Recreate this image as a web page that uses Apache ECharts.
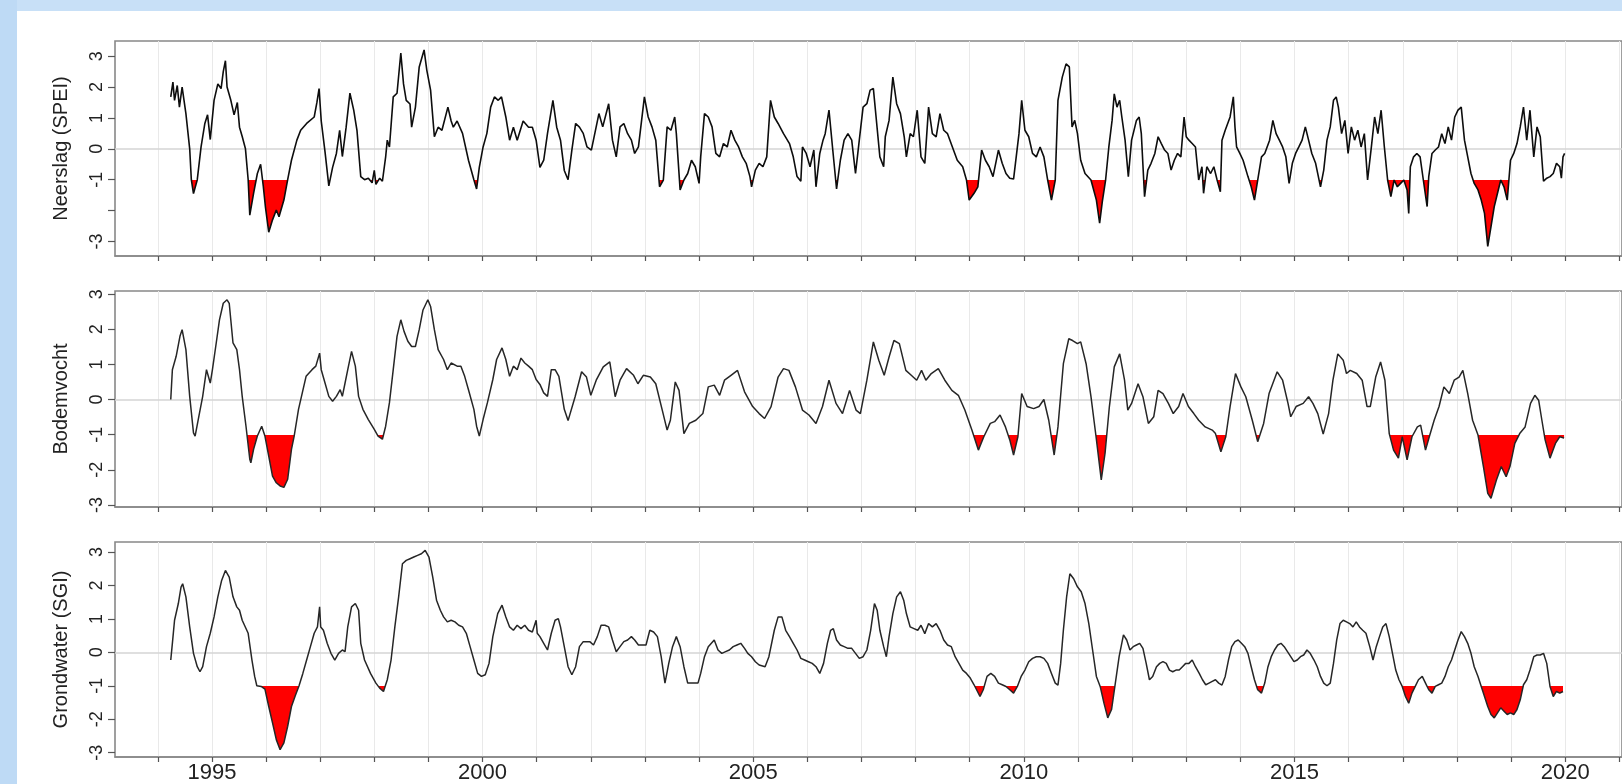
<!DOCTYPE html>
<html><head><meta charset="utf-8">
<script src="https://cdn.jsdelivr.net/npm/echarts@6/dist/echarts.min.js"></script>
<style>
html,body{margin:0;padding:0;width:1622px;height:784px;overflow:hidden;background:#c8e0f7;}
#leftband{position:absolute;left:0;top:0;width:17px;height:784px;background:#bedaf5;}
#paper{position:absolute;left:17px;top:11px;right:0;bottom:0;background:#ffffff;}
#chart{position:absolute;left:0;top:0;width:1622px;height:784px;}
</style></head>
<body><div id="leftband"></div><div id="paper"></div><div id="chart"></div>
<script>
// ---- data: [decimal year, index value] ----
const spei = [
[1994.24,1.68],[1994.28,2.16],[1994.31,1.57],[1994.36,2.05],[1994.40,1.35],[1994.45,2.0],[1994.52,1.14],[1994.59,0.0],[1994.62,-1.0],[1994.66,-1.45],[1994.73,-1.0],[1994.80,0.06],[1994.87,0.82],[1994.92,1.1],[1994.97,0.3],
[1995.04,1.57],[1995.11,2.1],[1995.17,1.95],[1995.21,2.5],[1995.25,2.85],[1995.28,2.0],[1995.35,1.57],[1995.41,1.1],[1995.47,1.5],[1995.51,0.7],[1995.56,0.4],[1995.62,0.0],[1995.67,-1.0],[1995.70,-2.15],[1995.77,-1.44],[1995.84,-0.8],[1995.90,-0.5],[1995.95,-1.22],[1995.99,-1.9],
[1996.05,-2.7],[1996.12,-2.3],[1996.19,-1.98],[1996.24,-2.2],[1996.33,-1.66],[1996.40,-1.0],[1996.47,-0.37],[1996.57,0.28],[1996.64,0.6],[1996.75,0.82],[1996.89,1.03],[1996.94,1.5],[1996.98,1.95],
[1997.02,0.9],[1997.09,-0.1],[1997.16,-1.2],[1997.23,-0.6],[1997.30,-0.15],[1997.36,0.6],[1997.41,-0.25],[1997.48,0.7],[1997.55,1.8],[1997.62,1.25],[1997.68,0.6],[1997.75,-0.9],[1997.82,-1.0],[1997.89,-0.95],[1997.96,-1.1],
[1998.00,-0.7],[1998.03,-1.15],[1998.10,-0.95],[1998.15,-1.05],[1998.21,-0.26],[1998.24,0.28],[1998.28,0.06],[1998.35,1.68],[1998.42,1.8],[1998.49,3.1],[1998.54,2.1],[1998.59,1.57],[1998.66,1.45],[1998.69,0.7],[1998.76,1.35],[1998.83,2.65],[1998.92,3.2],[1998.97,2.55],
[1999.04,1.9],[1999.11,0.39],[1999.18,0.7],[1999.25,0.6],[1999.36,1.35],[1999.42,0.9],[1999.46,0.7],[1999.53,0.9],[1999.63,0.5],[1999.74,-0.37],[1999.84,-1.0],[1999.89,-1.3],[1999.94,-0.6],
[2000.01,0.06],[2000.08,0.5],[2000.15,1.35],[2000.22,1.68],[2000.29,1.57],[2000.35,1.68],[2000.43,1.03],[2000.50,0.28],[2000.57,0.7],[2000.64,0.28],[2000.75,0.9],[2000.85,0.7],[2000.92,0.7],[2000.99,0.28],
[2001.06,-0.6],[2001.13,-0.37],[2001.20,0.5],[2001.30,1.57],[2001.37,0.7],[2001.44,0.28],[2001.51,-0.7],[2001.58,-1.0],[2001.65,-0.04],[2001.72,0.82],[2001.79,0.7],[2001.86,0.5],[2001.93,0.06],
[2002.01,-0.04],[2002.15,1.14],[2002.22,0.71],[2002.33,1.46],[2002.40,0.28],[2002.47,-0.26],[2002.54,0.71],[2002.61,0.82],[2002.68,0.49],[2002.75,0.28],[2002.81,-0.15],[2002.88,0.06],[2002.99,1.68],
[2003.06,1.03],[2003.13,0.71],[2003.20,0.28],[2003.27,-1.23],[2003.34,-1.01],[2003.41,0.71],[2003.48,0.6],[2003.55,1.03],[2003.58,0.49],[2003.65,-1.33],[2003.72,-1.01],[2003.79,-0.8],[2003.86,-0.37],[2003.93,-0.58],
[2004.00,-1.12],[2004.03,-0.26],[2004.10,1.14],[2004.17,1.03],[2004.24,0.71],[2004.31,-0.15],[2004.38,-0.26],[2004.45,0.17],[2004.52,0.06],[2004.59,0.6],[2004.66,0.28],[2004.73,0.06],[2004.80,-0.26],[2004.87,-0.47],[2004.94,-0.9],[2004.97,-1.23],
[2005.04,-0.69],[2005.11,-0.47],[2005.18,-0.58],[2005.25,-0.26],[2005.32,1.57],[2005.39,1.03],[2005.46,0.82],[2005.56,0.49],[2005.67,0.17],[2005.74,-0.26],[2005.81,-0.9],[2005.88,-1.05],[2005.91,0.06],[2005.98,-0.15],
[2006.05,-0.58],[2006.12,-0.04],[2006.16,-1.23],[2006.23,-0.15],[2006.29,0.28],[2006.33,0.49],[2006.40,1.25],[2006.47,-0.04],[2006.54,-1.3],[2006.61,-0.37],[2006.68,0.28],[2006.75,0.49],[2006.82,0.28],[2006.89,-0.8],[2006.96,0.28],
[2007.03,1.35],[2007.10,1.46],[2007.16,1.9],[2007.22,1.95],[2007.27,1.03],[2007.34,-0.26],[2007.41,-0.58],[2007.44,0.39],[2007.51,0.92],[2007.58,2.32],[2007.65,1.46],[2007.72,1.14],[2007.79,0.39],[2007.83,-0.26],[2007.90,0.49],[2007.96,0.39],
[2008.03,1.25],[2008.10,-0.26],[2008.17,-0.47],[2008.24,1.35],[2008.31,0.49],[2008.38,0.39],[2008.45,1.14],[2008.52,0.6],[2008.59,0.49],[2008.70,-0.04],[2008.77,-0.37],[2008.87,-0.58],[2008.94,-1.01],[2008.99,-1.66],
[2009.08,-1.44],[2009.15,-1.23],[2009.22,-0.04],[2009.29,-0.37],[2009.36,-0.58],[2009.43,-0.9],[2009.53,-0.04],[2009.60,-0.47],[2009.67,-0.8],[2009.74,-0.95],[2009.81,-0.98],[2009.91,0.49],[2009.96,1.57],
[2010.02,0.6],[2010.09,0.39],[2010.16,-0.15],[2010.23,-0.26],[2010.30,0.06],[2010.37,-0.26],[2010.44,-1.01],[2010.51,-1.66],[2010.58,-1.01],[2010.63,1.57],[2010.71,2.32],[2010.78,2.75],[2010.84,2.65],[2010.89,0.71],[2010.94,0.92],[2010.99,0.49],
[2011.05,-0.37],[2011.13,-0.8],[2011.24,-1.01],[2011.34,-1.66],[2011.40,-2.41],[2011.45,-1.7],[2011.51,-1.01],[2011.57,0.06],[2011.63,0.92],[2011.67,1.78],[2011.72,1.35],[2011.77,1.57],[2011.81,1.03],[2011.87,0.28],[2011.93,-0.9],[2011.99,0.28],
[2012.02,0.49],[2012.08,0.92],[2012.13,1.03],[2012.17,0.49],[2012.23,-1.55],[2012.29,-0.69],[2012.35,-0.47],[2012.42,-0.15],[2012.48,0.39],[2012.54,0.17],[2012.60,-0.04],[2012.66,-0.15],[2012.72,-0.69],[2012.78,-0.37],[2012.84,-0.15],[2012.90,-0.26],[2012.96,1.03],
[2013.00,0.39],[2013.05,0.28],[2013.11,0.17],[2013.17,0.06],[2013.23,-1.01],[2013.29,-0.58],[2013.32,-1.44],[2013.38,-0.58],[2013.45,-0.8],[2013.51,-0.58],[2013.57,-1.01],[2013.63,-1.39],[2013.66,0.28],[2013.72,0.6],[2013.81,1.03],[2013.87,1.68],[2013.90,0.71],[2013.93,0.06],[2013.99,-0.15],
[2014.05,-0.37],[2014.14,-0.9],[2014.20,-1.23],[2014.26,-1.66],[2014.32,-1.01],[2014.39,-0.26],[2014.45,-0.15],[2014.54,0.28],[2014.60,0.92],[2014.66,0.49],[2014.72,0.28],[2014.78,0.06],[2014.84,-0.26],[2014.90,-1.12],[2014.96,-0.47],
[2015.02,-0.15],[2015.08,0.06],[2015.14,0.28],[2015.20,0.71],[2015.26,0.28],[2015.32,-0.15],[2015.39,-0.47],[2015.48,-1.23],[2015.54,-0.69],[2015.60,0.28],[2015.66,0.71],[2015.72,1.57],[2015.77,1.68],[2015.81,1.35],[2015.87,0.49],[2015.93,0.92],[2015.99,-0.15],
[2016.05,0.71],[2016.11,0.28],[2016.17,0.6],[2016.23,0.06],[2016.29,0.49],[2016.35,-1.01],[2016.42,0.06],[2016.48,1.03],[2016.54,0.49],[2016.60,1.25],[2016.66,0.06],[2016.72,-1.01],[2016.78,-1.55],[2016.84,-1.01],[2016.90,-1.23],[2016.96,-1.12],
[2017.02,-1.01],[2017.08,-1.33],[2017.11,-2.09],[2017.14,-0.58],[2017.20,-0.26],[2017.26,-0.15],[2017.32,-0.26],[2017.38,-1.01],[2017.45,-1.87],[2017.48,-0.9],[2017.54,-0.15],[2017.60,-0.04],[2017.66,0.06],[2017.72,0.49],[2017.78,0.17],[2017.84,0.71],[2017.90,0.28],[2017.96,1.03],
[2018.02,1.25],[2018.08,1.35],[2018.14,0.28],[2018.20,-0.26],[2018.26,-0.8],[2018.32,-1.12],[2018.39,-1.33],[2018.45,-1.66],[2018.51,-2.09],[2018.57,-3.16],[2018.63,-2.52],[2018.69,-1.87],[2018.75,-1.44],[2018.81,-1.01],[2018.87,-1.23],[2018.93,-1.66],[2018.99,-0.37],
[2019.05,-0.15],[2019.11,0.17],[2019.17,0.71],[2019.23,1.35],[2019.29,0.28],[2019.35,1.25],[2019.42,-0.26],[2019.48,0.71],[2019.54,0.39],[2019.60,-1.05],[2019.66,-0.95],[2019.72,-0.9],[2019.78,-0.8],[2019.84,-0.47],[2019.90,-0.58],[2019.93,-0.95],[2019.96,-0.26],[2019.99,-0.15]
];

const bodemvocht = [
[1994.24,0.0],[1994.27,0.85],[1994.34,1.23],[1994.41,1.8],[1994.45,1.99],[1994.52,1.42],[1994.59,0.09],[1994.66,-0.95],[1994.69,-1.04],[1994.76,-0.47],[1994.83,0.09],[1994.90,0.85],[1994.97,0.47],
[1995.01,0.85],[1995.08,1.61],[1995.14,2.27],[1995.21,2.74],[1995.28,2.84],[1995.32,2.74],[1995.39,1.61],[1995.46,1.42],[1995.51,0.85],[1995.56,0.09],[1995.63,-0.76],[1995.70,-1.70],[1995.72,-1.8],[1995.77,-1.42],[1995.84,-1.04],[1995.92,-0.76],[1995.98,-1.04],
[1996.05,-1.61],[1996.12,-2.18],[1996.19,-2.37],[1996.26,-2.46],[1996.33,-2.5],[1996.40,-2.27],[1996.47,-1.42],[1996.52,-1.04],[1996.60,-0.28],[1996.67,0.19],[1996.74,0.66],[1996.85,0.85],[1996.92,0.95],[1996.99,1.32],
[1997.02,0.85],[1997.09,0.47],[1997.16,0.09],[1997.23,-0.05],[1997.30,0.09],[1997.37,0.28],[1997.41,0.09],[1997.46,0.47],[1997.51,0.85],[1997.58,1.37],[1997.65,0.95],[1997.71,0.09],[1997.79,-0.28],[1997.89,-0.57],
[1998.00,-0.85],[1998.07,-1.04],[1998.15,-1.13],[1998.21,-0.76],[1998.28,-0.09],[1998.35,0.85],[1998.42,1.8],[1998.49,2.27],[1998.55,1.94],[1998.62,1.66],[1998.69,1.51],[1998.76,1.51],[1998.83,1.99],[1998.90,2.55],[1998.99,2.84],
[1999.04,2.65],[1999.11,1.99],[1999.18,1.42],[1999.28,1.14],[1999.35,0.85],[1999.42,1.04],[1999.53,0.95],[1999.60,0.95],[1999.67,0.66],[1999.74,0.28],[1999.84,-0.28],[1999.89,-0.76],[1999.94,-1.04],
[2000.01,-0.57],[2000.09,-0.09],[2000.19,0.57],[2000.26,1.14],[2000.36,1.47],[2000.43,1.14],[2000.50,0.66],[2000.57,0.95],[2000.64,0.85],[2000.71,1.18],[2000.78,1.04],[2000.85,0.95],[2000.92,0.85],[2000.99,0.57],
[2001.06,0.43],[2001.13,0.19],[2001.20,0.09],[2001.27,0.85],[2001.34,0.85],[2001.41,0.66],[2001.51,-0.28],[2001.58,-0.6],[2001.71,0.08],[2001.83,0.79],[2001.92,0.64],
[2002.00,0.12],[2002.10,0.55],[2002.23,0.93],[2002.35,1.07],[2002.45,0.08],[2002.54,0.55],[2002.66,0.88],[2002.79,0.69],[2002.87,0.45],[2002.97,0.69],
[2003.10,0.64],[2003.20,0.45],[2003.32,-0.3],[2003.41,-0.87],[2003.47,-0.59],[2003.56,0.5],[2003.63,0.26],[2003.72,-0.97],[2003.82,-0.68],[2003.94,-0.59],
[2004.07,-0.4],[2004.17,0.36],[2004.28,0.41],[2004.38,0.12],[2004.47,0.55],[2004.59,0.69],[2004.71,0.83],[2004.84,0.22],[2004.99,-0.2],
[2005.11,-0.4],[2005.21,-0.54],[2005.33,-0.2],[2005.46,0.64],[2005.56,0.88],[2005.66,0.83],[2005.78,0.36],[2005.91,-0.3],
[2006.03,-0.44],[2006.16,-0.68],[2006.28,-0.2],[2006.40,0.55],[2006.53,-0.11],[2006.65,-0.4],[2006.78,0.26],[2006.90,-0.3],[2006.98,-0.4],
[2007.10,0.55],[2007.22,1.64],[2007.32,1.12],[2007.42,0.69],[2007.51,1.21],[2007.60,1.68],[2007.70,1.59],[2007.82,0.83],[2007.92,0.69],
[2008.02,0.55],[2008.11,0.83],[2008.19,0.55],[2008.29,0.74],[2008.42,0.88],[2008.54,0.55],[2008.67,0.26],[2008.79,0.12],[2008.91,-0.3],
[2009.04,-0.87],[2009.16,-1.44],[2009.26,-1.06],[2009.38,-0.68],[2009.46,-0.63],[2009.56,-0.44],[2009.66,-0.78],[2009.74,-1.15],[2009.81,-1.58],[2009.89,-1.06],[2009.96,0.17],
[2010.06,-0.2],[2010.18,-0.26],[2010.28,-0.2],[2010.37,0.0],[2010.46,-0.59],[2010.56,-1.58],[2010.63,-0.78],[2010.73,1.02],[2010.83,1.73],[2010.90,1.68],[2010.99,1.59],
[2011.05,1.64],[2011.15,1.02],[2011.24,0.08],[2011.33,-1.01],[2011.43,-2.29],[2011.50,-1.53],[2011.58,-0.2],[2011.67,0.93],[2011.77,1.3],[2011.86,0.55],[2011.92,-0.3],[2011.99,-0.11],
[2012.11,0.45],[2012.20,0.08],[2012.30,-0.68],[2012.40,-0.49],[2012.48,0.26],[2012.57,0.17],[2012.67,-0.11],[2012.76,-0.4],[2012.86,-0.2],[2012.94,0.17],
[2013.04,-0.2],[2013.14,-0.4],[2013.23,-0.59],[2013.35,-0.78],[2013.48,-0.87],[2013.54,-0.97],[2013.64,-1.49],[2013.73,-1.06],[2013.81,-0.2],[2013.91,0.74],
[2014.01,0.36],[2014.10,0.08],[2014.22,-0.59],[2014.32,-1.2],[2014.43,-0.68],[2014.53,0.17],[2014.68,0.79],[2014.78,0.55],[2014.88,-0.11],[2014.93,-0.49],
[2015.03,-0.2],[2015.16,-0.11],[2015.26,0.08],[2015.34,-0.11],[2015.43,-0.4],[2015.53,-0.98],[2015.63,-0.4],[2015.71,0.55],[2015.80,1.3],[2015.90,1.12],[2015.96,0.74],
[2016.03,0.83],[2016.15,0.74],[2016.25,0.55],[2016.34,-0.2],[2016.40,-0.2],[2016.50,0.64],[2016.59,1.07],[2016.67,0.55],[2016.75,-0.97],[2016.83,-1.44],[2016.92,-1.67],[2016.99,-1.06],
[2017.08,-1.72],[2017.17,-1.06],[2017.27,-0.78],[2017.33,-0.73],[2017.42,-1.44],[2017.49,-1.06],[2017.58,-0.59],[2017.67,-0.2],[2017.76,0.36],[2017.86,0.17],[2017.95,0.55],
[2018.04,0.64],[2018.11,0.83],[2018.20,0.17],[2018.29,-0.59],[2018.39,-1.01],[2018.49,-1.91],[2018.57,-2.67],[2018.63,-2.81],[2018.73,-2.29],[2018.82,-1.91],[2018.91,-2.2],[2018.98,-1.91],
[2019.07,-1.25],[2019.16,-0.97],[2019.26,-0.78],[2019.36,-0.11],[2019.44,0.12],[2019.51,-0.02],[2019.57,-0.59],[2019.63,-1.15],[2019.72,-1.67],[2019.82,-1.25],[2019.90,-1.06],[2019.98,-1.1]
];

const grondwater = [
[1994.24,-0.23],[1994.27,0.27],[1994.31,0.96],[1994.38,1.46],[1994.43,1.95],[1994.46,2.05],[1994.52,1.66],[1994.59,0.76],[1994.66,-0.03],[1994.73,-0.43],[1994.78,-0.58],[1994.83,-0.43],[1994.90,0.17],[1994.97,0.57],
[1995.04,1.06],[1995.11,1.66],[1995.18,2.15],[1995.25,2.45],[1995.28,2.45],[1995.32,2.25],[1995.39,1.66],[1995.46,1.36],[1995.51,1.26],[1995.56,0.96],[1995.67,0.57],[1995.74,-0.23],[1995.79,-0.72],[1995.83,-1.0],[1995.91,-1.02],[1995.98,-1.1],
[1996.05,-1.62],[1996.12,-2.11],[1996.19,-2.61],[1996.26,-2.91],[1996.33,-2.71],[1996.40,-2.21],[1996.47,-1.62],[1996.54,-1.3],[1996.61,-1.0],[1996.68,-0.63],[1996.75,-0.23],[1996.82,0.17],[1996.89,0.57],[1996.95,0.76],[1996.99,1.36],
[1997.01,0.76],[1997.06,0.66],[1997.13,0.27],[1997.20,-0.03],[1997.27,-0.23],[1997.34,-0.03],[1997.41,0.07],[1997.46,0.02],[1997.51,0.76],[1997.58,1.36],[1997.65,1.46],[1997.71,1.26],[1997.75,0.27],[1997.82,-0.23],[1997.93,-0.63],
[1998.03,-0.92],[1998.10,-1.07],[1998.17,-1.17],[1998.24,-0.82],[1998.31,-0.23],[1998.38,0.76],[1998.45,1.66],[1998.52,2.65],[1998.59,2.75],[1998.66,2.8],[1998.73,2.85],[1998.80,2.9],[1998.87,2.95],[1998.94,3.05],
[1999.01,2.85],[1999.08,2.25],[1999.15,1.56],[1999.22,1.26],[1999.28,1.06],[1999.35,0.91],[1999.42,0.96],[1999.49,0.91],[1999.56,0.81],[1999.63,0.76],[1999.70,0.57],[1999.77,0.17],[1999.84,-0.23],[1999.91,-0.63],[1999.98,-0.72],
[2000.05,-0.67],[2000.12,-0.33],[2000.19,0.47],[2000.28,1.16],[2000.36,1.41],[2000.43,1.06],[2000.50,0.76],[2000.57,0.66],[2000.64,0.81],[2000.71,0.71],[2000.78,0.81],[2000.85,0.66],[2000.92,0.61],[2000.99,0.96],
[2001.01,0.57],[2001.06,0.47],[2001.13,0.27],[2001.20,0.07],[2001.27,0.57],[2001.34,0.96],[2001.40,1.01],[2001.44,0.76],[2001.51,0.17],[2001.58,-0.43],[2001.65,-0.67],[2001.72,-0.43],[2001.79,0.17],[2001.86,0.32],[2001.98,0.32],
[2002.05,0.22],[2002.12,0.47],[2002.19,0.81],[2002.26,0.81],[2002.33,0.76],[2002.40,0.37],[2002.47,0.02],[2002.54,0.17],[2002.61,0.32],[2002.68,0.37],[2002.75,0.47],[2002.81,0.37],[2002.88,0.22],[2002.95,0.22],
[2003.02,0.22],[2003.09,0.66],[2003.16,0.61],[2003.23,0.47],[2003.30,-0.13],[2003.37,-0.92],[2003.44,-0.33],[2003.51,0.17],[2003.58,0.47],[2003.65,0.17],[2003.72,-0.43],[2003.79,-0.92],[2003.89,-0.92],[2003.98,-0.92],
[2004.03,-0.63],[2004.10,-0.13],[2004.17,0.17],[2004.28,0.37],[2004.35,0.07],[2004.42,-0.03],[2004.49,0.02],[2004.56,0.07],[2004.63,0.17],[2004.70,0.22],[2004.77,0.27],[2004.84,0.12],[2004.90,-0.03],[2004.97,-0.13],
[2005.04,-0.28],[2005.11,-0.38],[2005.22,-0.43],[2005.29,-0.13],[2005.39,0.66],[2005.46,1.06],[2005.53,1.06],[2005.60,0.66],[2005.67,0.47],[2005.74,0.27],[2005.81,0.07],[2005.88,-0.18],[2005.95,-0.23],
[2006.02,-0.28],[2006.09,-0.33],[2006.16,-0.43],[2006.23,-0.63],[2006.30,-0.33],[2006.37,0.27],[2006.43,0.66],[2006.48,0.71],[2006.54,0.37],[2006.61,0.22],[2006.68,0.17],[2006.75,0.12],[2006.82,0.12],[2006.89,-0.03],[2006.96,-0.18],
[2007.03,-0.13],[2007.10,0.07],[2007.17,0.66],[2007.24,1.46],[2007.29,1.26],[2007.34,0.66],[2007.41,0.17],[2007.46,-0.13],[2007.51,0.47],[2007.58,1.16],[2007.65,1.66],[2007.72,1.81],[2007.78,1.56],[2007.83,1.16],[2007.90,0.76],[2007.97,0.71],
[2008.04,0.66],[2008.10,0.81],[2008.17,0.56],[2008.24,0.86],[2008.31,0.76],[2008.38,0.86],[2008.45,0.66],[2008.52,0.37],[2008.59,0.22],[2008.66,0.17],[2008.73,-0.13],[2008.80,-0.33],[2008.87,-0.53],[2008.94,-0.63],
[2009.01,-0.77],[2009.08,-0.97],[2009.19,-1.32],[2009.25,-1.12],[2009.32,-0.72],[2009.39,-0.63],[2009.46,-0.72],[2009.53,-0.92],[2009.60,-0.97],[2009.67,-1.02],[2009.74,-1.12],[2009.81,-1.22],[2009.88,-1.02],[2009.95,-0.72],
[2010.02,-0.53],[2010.09,-0.28],[2010.16,-0.18],[2010.23,-0.13],[2010.30,-0.13],[2010.37,-0.18],[2010.44,-0.33],[2010.51,-0.63],[2010.58,-0.92],[2010.63,-0.98],[2010.68,-0.33],[2010.73,0.66],[2010.79,1.66],[2010.85,2.35],[2010.92,2.2],[2010.99,1.96],
[2011.06,1.81],[2011.13,1.46],[2011.20,0.86],[2011.27,0.07],[2011.34,-0.72],[2011.41,-1.02],[2011.48,-1.52],[2011.55,-1.96],[2011.62,-1.71],[2011.69,-0.92],[2011.76,-0.13],[2011.84,0.52],[2011.90,0.37],[2011.96,0.07],
[2012.02,0.17],[2012.08,0.22],[2012.14,0.27],[2012.20,0.12],[2012.26,-0.33],[2012.32,-0.82],[2012.38,-0.72],[2012.45,-0.43],[2012.51,-0.33],[2012.57,-0.28],[2012.63,-0.33],[2012.69,-0.53],[2012.75,-0.58],[2012.81,-0.53],[2012.87,-0.53],[2012.93,-0.43],[2012.99,-0.33],
[2013.05,-0.33],[2013.11,-0.23],[2013.17,-0.43],[2013.24,-0.63],[2013.30,-0.82],[2013.36,-0.97],[2013.42,-0.92],[2013.48,-0.87],[2013.54,-0.82],[2013.60,-0.92],[2013.66,-0.98],[2013.72,-0.72],[2013.78,-0.23],[2013.84,0.17],[2013.90,0.32],[2013.96,0.37],
[2014.02,0.27],[2014.08,0.17],[2014.14,-0.03],[2014.20,-0.43],[2014.26,-0.82],[2014.32,-1.12],[2014.39,-1.22],[2014.45,-0.92],[2014.51,-0.43],[2014.57,-0.13],[2014.63,0.07],[2014.69,0.22],[2014.75,0.27],[2014.81,0.17],[2014.87,0.02],[2014.93,-0.13],[2014.99,-0.28],
[2015.05,-0.23],[2015.11,-0.13],[2015.17,-0.08],[2015.23,0.07],[2015.29,-0.03],[2015.36,-0.23],[2015.42,-0.43],[2015.48,-0.72],[2015.54,-0.92],[2015.60,-1.0],[2015.66,-0.92],[2015.72,-0.33],[2015.78,0.37],[2015.84,0.86],[2015.90,0.96],[2015.96,0.91],
[2016.02,0.86],[2016.08,0.76],[2016.14,0.91],[2016.20,0.76],[2016.26,0.66],[2016.32,0.57],[2016.39,0.17],[2016.45,-0.23],[2016.51,0.17],[2016.57,0.47],[2016.63,0.76],[2016.69,0.86],[2016.75,0.47],[2016.81,-0.03],[2016.87,-0.53],[2016.93,-0.82],[2016.99,-1.02],
[2017.05,-1.32],[2017.11,-1.52],[2017.17,-1.22],[2017.23,-1.02],[2017.29,-0.82],[2017.36,-0.72],[2017.42,-0.92],[2017.48,-1.12],[2017.54,-1.22],[2017.60,-1.02],[2017.66,-0.97],[2017.72,-0.92],[2017.78,-0.72],[2017.84,-0.43],[2017.90,-0.23],[2017.96,0.07],
[2018.02,0.37],[2018.08,0.62],[2018.14,0.47],[2018.20,0.27],[2018.26,-0.03],[2018.32,-0.43],[2018.39,-0.72],[2018.45,-1.02],[2018.51,-1.32],[2018.57,-1.62],[2018.63,-1.86],[2018.69,-1.96],[2018.75,-1.81],[2018.81,-1.66],[2018.87,-1.76],[2018.93,-1.86],[2018.99,-1.81],
[2019.05,-1.86],[2019.11,-1.71],[2019.17,-1.42],[2019.23,-0.97],[2019.29,-0.82],[2019.35,-0.53],[2019.42,-0.13],[2019.48,-0.08],[2019.54,-0.08],[2019.60,-0.03],[2019.66,-0.33],[2019.72,-1.02],[2019.78,-1.32],[2019.84,-1.17],[2019.90,-1.22],[2019.96,-1.17]
];

const panelNames = ['Neerslag (SPEI)', 'Bodemvocht', 'Grondwater (SGI)'];
const yTicks = [-3, -2, -1, 0, 1, 2, 3];
const yearTicks = [1994,1995,1996,1997,1998,1999,2000,2001,2002,2003,2004,2005,2006,2007,2008,2009,2010,2011,2012,2013,2014,2015,2016,2017,2018,2019,2020,2021];
const yearLabels = [1995, 2000, 2005, 2010, 2015, 2020];
const droughtThreshold = -1;

// ---- layout / style ----
const seriesData = [spei, bodemvocht, grondwater];
const gridTops = [41, 291, 542];
const gridHeights = [215, 216, 216];
const yRanges = [[-3.47, 3.49], [-3.06, 3.09], [-3.13, 3.30]];
const hiddenYLabels = [[-2], [], []];
const lineColors = ['#0d0d0d', '#262626', '#262626'];
const lineWidths = [1.6, 1.5, 1.5];
const FONT = 'Liberation Sans, Arial, Helvetica, sans-serif';

const grids = [], xAxes = [], yAxes = [], series = [];
for (let i = 0; i < 3; i++) {
  grids.push({left: 115, width: 1531, top: gridTops[i], height: gridHeights[i],
    show: true, borderColor: '#888888', borderWidth: 1.6, backgroundColor: 'transparent'});
  xAxes.push({type: 'value', gridIndex: i, min: 1993.21, max: 2021.05,
    axisLine: {show: true, onZero: false, lineStyle: {color: '#888888', width: 1.6}},
    axisTick: {show: true, customValues: yearTicks, length: 5, lineStyle: {color: '#555', width: 1.2}},
    axisLabel: {show: i === 2, customValues: yearLabels, fontSize: 22, color: '#222', margin: 5, fontFamily: FONT,
      formatter: v => String(Math.round(v))},
    splitLine: {show: true, lineStyle: {color: '#e9e9e9', width: 1}}
  });
  const hide = hiddenYLabels[i];
  yAxes.push({type: 'value', gridIndex: i, min: yRanges[i][0], max: yRanges[i][1],
    name: panelNames[i], nameLocation: 'middle', nameRotate: 90, nameGap: 44,
    nameTextStyle: {fontSize: 20, color: '#222', fontFamily: FONT},
    axisLine: {show: false, onZero: false},
    axisTick: {show: true, customValues: yTicks, length: 7, lineStyle: {color: '#555', width: 1.2}},
    axisLabel: {show: true, customValues: yTicks, rotate: 90, fontSize: 18, color: '#222', margin: 9, fontFamily: FONT,
      formatter: v => (hide.indexOf(Math.round(v)) >= 0 ? '' : String(Math.round(v)))},
    splitLine: {show: false}
  });
  // red deficit fill (coloured below threshold by visualMap)
  series.push({type: 'line', xAxisIndex: i, yAxisIndex: i, data: seriesData[i], showSymbol: false,
    silent: true, z: 1, lineStyle: {width: 0, opacity: 0}, areaStyle: {opacity: 1},
    markLine: {silent: true, symbol: ['none', 'none'], label: {show: false}, z: 1,
      lineStyle: {color: '#d4d4d4', width: 1.6, type: 'solid'}, data: [{yAxis: 0}]}
  });
  // black index line
  series.push({type: 'line', xAxisIndex: i, yAxisIndex: i, data: seriesData[i], showSymbol: false,
    silent: true, z: 3, lineStyle: {color: lineColors[i], width: lineWidths[i]}});
}

const chart = echarts.init(document.getElementById('chart'), null, {renderer: 'canvas'});
chart.setOption({
  animation: false,
  backgroundColor: 'transparent',
  grid: grids, xAxis: xAxes, yAxis: yAxes, series: series,
  visualMap: {type: 'piecewise', show: false, dimension: 1, seriesIndex: [0, 2, 4],
    pieces: [{gte: -100, lt: droughtThreshold, color: '#ff0000'}, {gte: droughtThreshold, lte: 100, color: 'rgba(255,0,0,0)'}],
    outOfRange: {color: 'rgba(0,0,0,0)'}}
});
</script>
</body></html>
